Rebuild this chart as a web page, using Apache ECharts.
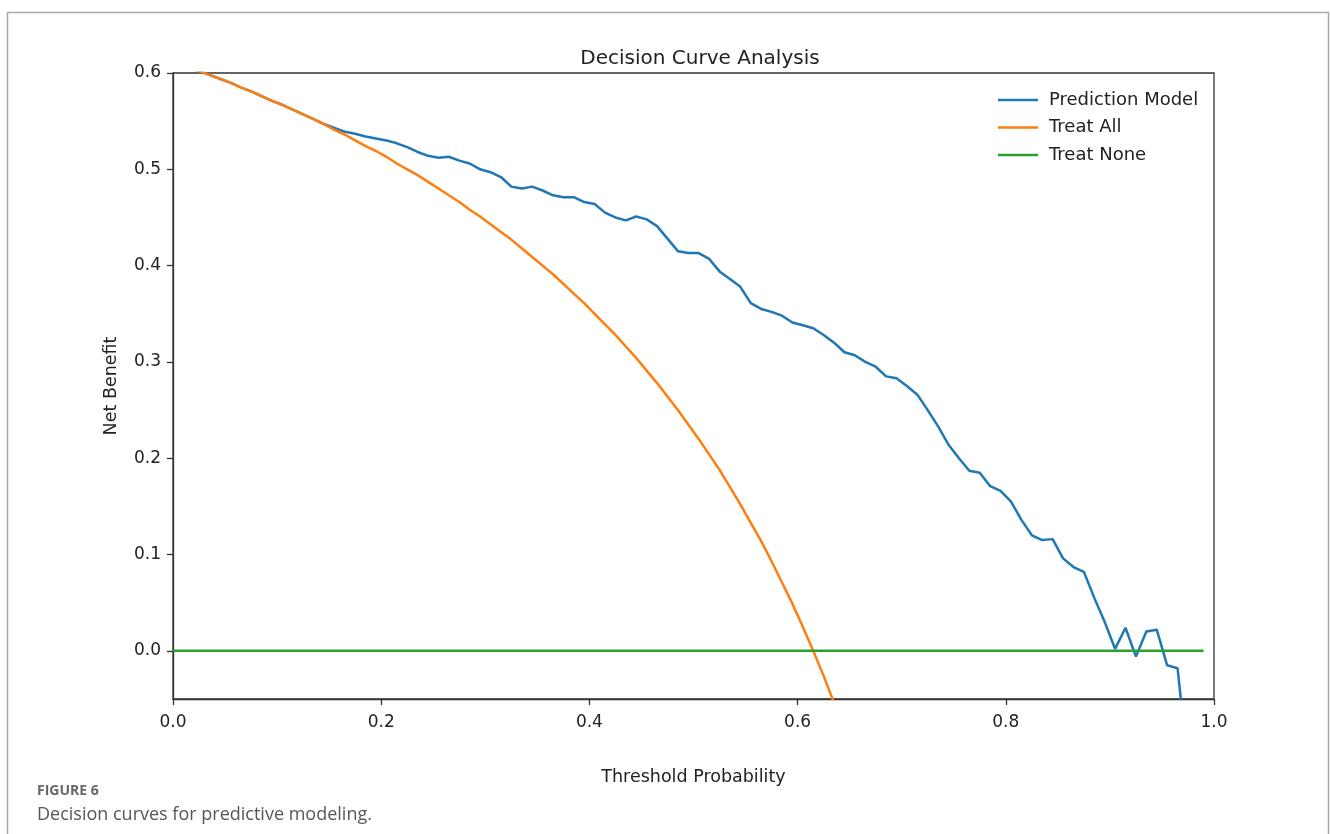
<!DOCTYPE html>
<html>
<head>
<meta charset="utf-8">
<script src="https://cdn.jsdelivr.net/npm/echarts@6/dist/echarts.min.js"></script>
<style>
  html, body { margin: 0; padding: 0; background: #fff; }
  #chart { width: 1330px; height: 834px; }
</style>
</head>
<body>
<div id="chart"></div>
<script>
// threshold probabilities (x) as they sit in the picture
const thresholds = [
  0.005, 0.015, 0.025, 0.035, 0.045, 0.055, 0.065, 0.075, 0.085, 0.095,
  0.105, 0.115, 0.125, 0.135, 0.145, 0.155, 0.165, 0.175, 0.185, 0.195,
  0.205, 0.215, 0.225, 0.235, 0.245, 0.255, 0.265, 0.275, 0.285, 0.295,
  0.305, 0.315, 0.325, 0.335, 0.345, 0.355, 0.365, 0.375, 0.385, 0.395,
  0.405, 0.415, 0.425, 0.435, 0.445, 0.455, 0.465, 0.475, 0.485, 0.495,
  0.505, 0.515, 0.525, 0.535, 0.545, 0.555, 0.565, 0.575, 0.585, 0.595,
  0.605, 0.615, 0.625, 0.635, 0.645, 0.655, 0.665, 0.675, 0.685, 0.695,
  0.705, 0.715, 0.725, 0.735, 0.745, 0.755, 0.765, 0.775, 0.785, 0.795,
  0.805, 0.815, 0.825, 0.835, 0.845, 0.855, 0.865, 0.875, 0.885, 0.895,
  0.905, 0.915, 0.925, 0.935, 0.945, 0.955, 0.965, 0.975
]

// net benefit
const predictionModel = [
  0.610, 0.606, 0.602, 0.598, 0.594, 0.590, 0.585, 0.581, 0.576, 0.571,
  0.567, 0.562, 0.557, 0.552, 0.547, 0.543, 0.539, 0.537, 0.534, 0.532,
  0.530, 0.527, 0.523, 0.518, 0.514, 0.512, 0.513, 0.509, 0.506, 0.500,
  0.497, 0.492, 0.482, 0.480, 0.482, 0.478, 0.473, 0.471, 0.471, 0.466,
  0.464, 0.455, 0.450, 0.447, 0.451, 0.448, 0.441, 0.428, 0.415, 0.413,
  0.413, 0.407, 0.394, 0.386, 0.378, 0.361, 0.355, 0.352, 0.348, 0.341,
  0.338, 0.335, 0.328, 0.320, 0.310, 0.307, 0.300, 0.295, 0.285, 0.283,
  0.275, 0.266, 0.250, 0.233, 0.214, 0.200, 0.187, 0.185, 0.171, 0.166,
  0.155, 0.136, 0.120, 0.115, 0.116, 0.096, 0.087, 0.082, 0.055, 0.030,
  0.002, 0.024, -0.006, 0.020, 0.022, -0.015, -0.018, -0.120
]

const treatAll = [
  0.610, 0.606, 0.602, 0.598, 0.594, 0.590, 0.585, 0.581, 0.576, 0.571,
  0.567, 0.562, 0.557, 0.552, 0.547, 0.541, 0.536, 0.530, 0.524, 0.519,
  0.513, 0.506, 0.500, 0.494, 0.487, 0.480, 0.473, 0.466, 0.458, 0.451,
  0.443, 0.435, 0.427, 0.418, 0.409, 0.400, 0.391, 0.381, 0.371, 0.361,
  0.350, 0.339, 0.328, 0.316, 0.304, 0.291, 0.278, 0.264, 0.250, 0.235,
  0.220, 0.204, 0.188, 0.170, 0.152, 0.133, 0.114, 0.093, 0.071, 0.049,
  0.025, 0.000, -0.026, -0.054, -0.083
]

const treatNoneX = [0.00, 0.99]
const treatNoneY = [0, 0]

const yTicks = [0.0, 0.1, 0.2, 0.3, 0.4, 0.5, 0.6]
const xTicks = [0.0, 0.2, 0.4, 0.6, 0.8, 1.0]

const pairs = (xs, ys) => ys.map((y, i) => [xs[i], y])

const FONT = 'DejaVu Sans'
const chart = echarts.init(document.getElementById('chart'), null, { renderer: 'canvas' })

const option = {
  backgroundColor: '#fff',
  animation: false,
  title: {
    text: 'Decision Curve Analysis',
    left: 695,
    top: 44,
    textAlign: 'center',
    textStyle: { fontFamily: FONT, fontSize: 20, fontWeight: 'normal', color: '#222' }
  },
  legend: {
    orient: 'vertical',
    left: 993,
    top: 86,
    icon: 'rect',
    itemWidth: 40,
    itemHeight: 2.5,
    itemGap: 9.5,
    textStyle: { fontFamily: FONT, fontSize: 18, color: '#222', padding: [0, 0, 0, 6] },
    data: ['Prediction Model', 'Treat All', 'Treat None']
  },
  grid: {
    left: 173,
    top: 73,
    right: 116,
    bottom: 135,
    show: true,
    borderColor: '#333',
    borderWidth: 1.3,
    backgroundColor: 'transparent'
  },
  xAxis: {
    type: 'value',
    min: 0,
    max: 1,
    name: 'Threshold Probability',
    nameLocation: 'middle',
    nameGap: 69,
    nameTextStyle: { fontFamily: FONT, fontSize: 17.5, color: '#222' },
    axisLine: { show: true, onZero: false, lineStyle: { color: '#333', width: 1.3 } },
    axisTick: { show: true, inside: false, length: 6, lineStyle: { color: '#333', width: 1.3 }, customValues: xTicks },
    axisLabel: {
      fontFamily: FONT, fontSize: 17, color: '#222', margin: 15,
      formatter: v => v.toFixed(1),
      customValues: xTicks
    },
    splitLine: { show: false }
  },
  yAxis: {
    type: 'value',
    min: -0.05,
    max: 0.6,
    name: 'Net Benefit',
    nameLocation: 'middle',
    nameRotate: 90,
    nameGap: 53,
    nameTextStyle: { fontFamily: FONT, fontSize: 17.5, color: '#222' },
    axisLine: { show: true, onZero: false, lineStyle: { color: '#333', width: 1.3 } },
    axisTick: { show: true, inside: false, length: 6, lineStyle: { color: '#333', width: 1.3 }, customValues: yTicks },
    axisLabel: {
      fontFamily: FONT, fontSize: 17, color: '#222', margin: 12,
      formatter: v => v.toFixed(1),
      customValues: yTicks
    },
    splitLine: { show: false }
  },
  graphic: [
    {
      type: 'rect',
      silent: true,
      shape: { x: 7.5, y: 12.5, width: 1321, height: 840 },
      style: { fill: 'none', stroke: '#a7a7ad', lineWidth: 1.5 }
    },
    {
      type: 'text',
      left: 37,
      top: 784,
      style: { text: 'FIGURE 6', fontFamily: 'Open Sans', fontSize: 14, fontWeight: 'bold', fill: '#66676d' }
    },
    {
      type: 'text',
      left: 37,
      top: 806,
      style: { text: 'Decision curves for predictive modeling.', fontFamily: 'Open Sans', fontSize: 18, fill: '#55565c' }
    }
  ],
  series: [
    {
      name: 'Prediction Model',
      type: 'line',
      data: pairs(thresholds, predictionModel),
      showSymbol: false,
      symbol: 'none',
      clip: true,
      itemStyle: { color: '#1f77b4' },
      lineStyle: { color: '#1f77b4', width: 2.5 },
      z: 2
    },
    {
      name: 'Treat All',
      type: 'line',
      data: pairs(thresholds, treatAll),
      showSymbol: false,
      symbol: 'none',
      clip: true,
      itemStyle: { color: '#ff7f0e' },
      lineStyle: { color: '#ff7f0e', width: 2.5 },
      z: 3
    },
    {
      name: 'Treat None',
      type: 'line',
      data: pairs(treatNoneX, treatNoneY),
      showSymbol: false,
      symbol: 'none',
      clip: true,
      itemStyle: { color: '#2ca02c' },
      lineStyle: { color: '#2ca02c', width: 2.5 },
      z: 4
    }
  ]
}

chart.setOption(option)

window.addEventListener('resize', () => {
  chart && chart.resize()
})
</script>
</body>
</html>
